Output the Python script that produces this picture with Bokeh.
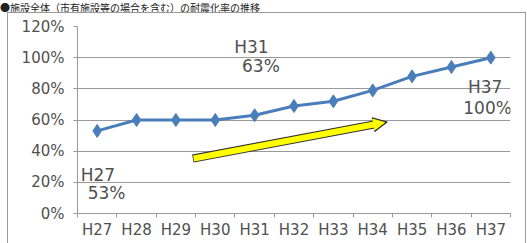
from bokeh.plotting import figure
from bokeh.models import FixedTicker, Label, Arrow, NormalHead, Range1d, Div
from bokeh.layouts import column
from bokeh.embed import file_html
from bokeh.resources import INLINE

title_text = "●施設全体（市有施設等の場合を含む）の耐震化率の推移"
categories = ["H27", "H28", "H29", "H30", "H31", "H32", "H33", "H34", "H35", "H36", "H37"]
rates = [53, 60, 60, 60, 63, 69, 72, 79, 88, 94, 100]
y_ticks = [0, 20, 40, 60, 80, 100, 120]
y_tick_labels = ["0%", "20%", "40%", "60%", "80%", "100%", "120%"]

FONT = "DejaVu Sans"
TXT = "#505050"
GRID = "#9a9a9a"

xs = list(range(len(categories)))

title = Div(text=f'<div style="font-size:10px;line-height:12px;'
                 f'font-family:\'Noto Sans CJK JP\';white-space:nowrap;color:#222;">{title_text}</div>',
            width=527, height=12)
title.margin = (0, 0, 0, 0)

p = figure(width=519, height=231, output_backend="svg", toolbar_location=None,
           x_range=Range1d(-0.5, len(categories) - 0.5), y_range=Range1d(0, 120),
           min_border_left=69, min_border_right=17, min_border_top=13, min_border_bottom=31)
p.margin = (0, 0, 0, 7)
p.styles = {"border-top": "1px solid #9a9a9a", "border-left": "1px solid #9a9a9a",
            "border-right": "1px solid #9a9a9a"}
p.outline_line_color = None
p.background_fill_color = "white"
p.border_fill_color = "white"

# x axis
p.xaxis.ticker = FixedTicker(ticks=xs, minor_ticks=[i - 0.5 for i in range(len(categories) + 1)])
p.xaxis.major_label_overrides = {i: c for i, c in enumerate(categories)}
p.xaxis.major_tick_line_color = None
p.xaxis.minor_tick_line_color = GRID
p.xaxis.minor_tick_out = 4
p.xaxis.minor_tick_in = 0
p.xaxis.axis_line_color = GRID
p.xaxis.major_label_text_font = FONT
p.xaxis.major_label_text_font_size = "15px"
p.xaxis.major_label_text_color = TXT
p.xaxis.major_label_standoff = 1
p.xgrid.grid_line_color = None

# y axis
p.yaxis.ticker = FixedTicker(ticks=y_ticks)
p.yaxis.major_label_overrides = {v: l for v, l in zip(y_ticks, y_tick_labels)}
p.yaxis.minor_tick_line_color = None
p.yaxis.major_tick_line_color = GRID
p.yaxis.major_tick_out = 4
p.yaxis.major_tick_in = 0
p.yaxis.axis_line_color = GRID
p.yaxis.major_label_text_font = FONT
p.yaxis.major_label_text_font_size = "15px"
p.yaxis.major_label_text_color = TXT
p.yaxis.major_label_standoff = 9
p.ygrid.grid_line_color = GRID
p.ygrid.grid_line_width = 1

# yellow arrow (outline then fill)
p.add_layout(Arrow(end=NormalHead(size=14, fill_color="#303030", line_color="#303030"),
                   x_start=2.43, y_start=35.3, x_end=7.37, y_end=58.7,
                   line_width=8, line_color="#303030"))
p.add_layout(Arrow(end=NormalHead(size=11, fill_color="#FFFF00", line_color="#FFFF00"),
                   x_start=2.45, y_start=35.3, x_end=7.3, y_end=58.4,
                   line_width=6, line_color="#FFFF00"))

# line series
p.line(xs, rates, line_color="#4A7EBB", line_width=3)
p.scatter(xs, rates, marker="diamond", size=13, fill_color="#4A7EBB", line_color="#4A7EBB")

def lab(x, y, t):
    p.add_layout(Label(x=x, y=y, text=t, text_font=FONT, text_font_size="17px",
                       text_color=TXT, text_baseline="alphabetic", text_align="left"))

lab(3.48, 107.0, categories[4])
lab(3.68, 94.8, f"{rates[4]}%")
lab(-0.42, 25.0, categories[0])
lab(-0.24, 13.1, f"{rates[0]}%")
lab(9.42, 80.9, categories[-1])
lab(9.30, 68.0, f"{rates[-1]}%")

layout = column(title, p, spacing=0)
open("out.html", "w").write(file_html(layout, INLINE))
